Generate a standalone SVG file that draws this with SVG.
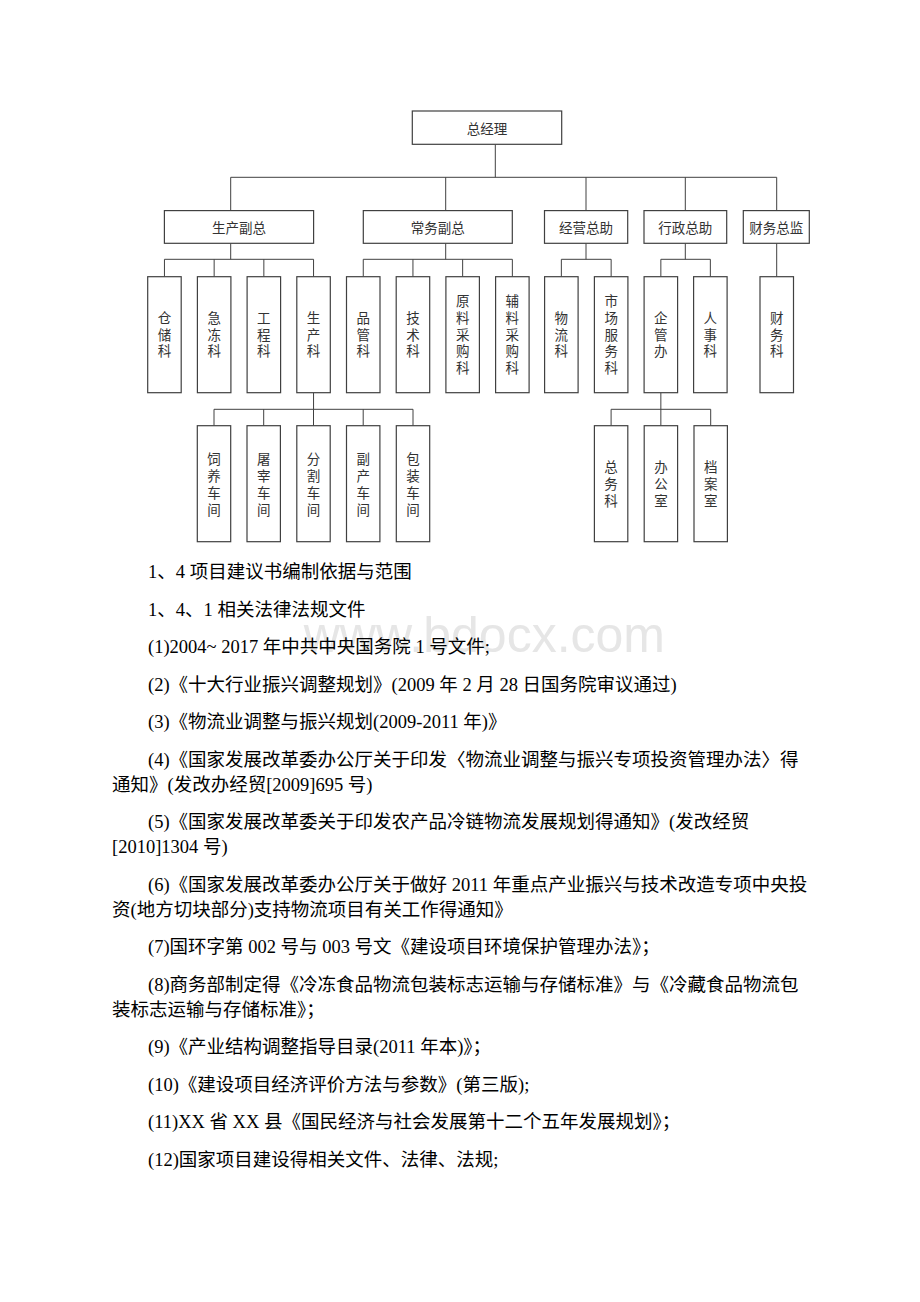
<svg xmlns="http://www.w3.org/2000/svg" width="920" height="1302" viewBox="0 0 920 1302">
<style>
.box{fill:#fff;stroke:#404040;stroke-width:1.2}
.ln{stroke:#404040;stroke-width:1;fill:none}
.lbl{font-family:"Noto Sans CJK SC",sans-serif;font-size:13.5px;fill:#333;text-anchor:middle;dominant-baseline:central}
.body{font-family:"Liberation Serif","Noto Sans CJK SC",serif;font-size:18.5px;fill:#000}
.wm{font-family:"Liberation Sans",Arial,sans-serif;font-size:50px;fill:#e6e6e6}
</style>
<rect x="0" y="0" width="920" height="1302" fill="#fff"/>
<g id="connectors">
<path class="ln" d="M495.3,144.3V177.3M230.7,177.3H776.7M230.7,177.3V210.6M445.7,177.3V210.6M586,177.3V210.6M685.3,177.3V210.6M776.7,177.3V210.6"/>
<path class="ln" d="M230.7,243.3V259.3M164.45,259.3H313.55M164.45,259.3V276.7M214.15,259.3V276.7M263.85,259.3V276.7M313.55,259.3V276.7"/>
<path class="ln" d="M445.7,243.3V259.3M363.25,259.3H512.35M363.25,259.3V276.7M412.95,259.3V276.7M462.65,259.3V276.7M512.35,259.3V276.7"/>
<path class="ln" d="M586,243.3V259.3M561.35,259.3H611.15M561.35,259.3V276.7M611.15,259.3V276.7"/>
<path class="ln" d="M685.3,243.3V259.3M660.85,259.3H710.35M660.85,259.3V276.7M710.35,259.3V276.7"/>
<path class="ln" d="M776.7,243.3V276.7"/>
<path class="ln" d="M313.55,392.7V409.3M214,409.3H413M214,409.3V425.7M263.7,409.3V425.7M313.5,409.3V425.7M363.2,409.3V425.7M413,409.3V425.7"/>
<path class="ln" d="M660.85,392.7V409.3M611.1,409.3H710.7M611.1,409.3V425.7M660.85,409.3V425.7M710.7,409.3V425.7"/>
</g>
<g id="n-zjl"><rect class="box" x="412.3" y="111" width="149.4" height="33.3"/><text class="lbl" x="487" y="127.7">总经理</text></g>
<g id="n-scfz"><rect class="box" x="164.4" y="210.6" width="149.2" height="32.7"/><text class="lbl" x="239" y="227">生产副总</text></g>
<g id="n-cwfz"><rect class="box" x="363.3" y="210.6" width="149" height="32.7"/><text class="lbl" x="437.8" y="227">常务副总</text></g>
<g id="n-jyzz"><rect class="box" x="544.5" y="210.6" width="83.2" height="32.7"/><text class="lbl" x="586.1" y="227">经营总助</text></g>
<g id="n-xzzz"><rect class="box" x="644" y="210.6" width="82.7" height="32.7"/><text class="lbl" x="685.3" y="227">行政总助</text></g>
<g id="n-cwzj"><rect class="box" x="743.3" y="210.6" width="66" height="32.7"/><text class="lbl" x="776.3" y="227">财务总监</text></g>

<g id="n-cck"><rect class="box" x="147.7" y="276.7" width="33.5" height="116"/><text class="lbl" x="164.45"><tspan x="164.45" y="316.7">仓</tspan><tspan x="164.45" y="333.5">储</tspan><tspan x="164.45" y="350.3">科</tspan></text></g>
<g id="n-jdk"><rect class="box" x="197.4" y="276.7" width="33.5" height="116"/><text class="lbl"><tspan x="214.15" y="316.7">急</tspan><tspan x="214.15" y="333.5">冻</tspan><tspan x="214.15" y="350.3">科</tspan></text></g>
<g id="n-gck"><rect class="box" x="247.1" y="276.7" width="33.5" height="116"/><text class="lbl"><tspan x="263.85" y="316.7">工</tspan><tspan x="263.85" y="333.5">程</tspan><tspan x="263.85" y="350.3">科</tspan></text></g>
<g id="n-sck"><rect class="box" x="296.8" y="276.7" width="33.5" height="116"/><text class="lbl"><tspan x="313.55" y="316.7">生</tspan><tspan x="313.55" y="333.5">产</tspan><tspan x="313.55" y="350.3">科</tspan></text></g>
<g id="n-pgk"><rect class="box" x="346.5" y="276.7" width="33.5" height="116"/><text class="lbl"><tspan x="363.25" y="316.7">品</tspan><tspan x="363.25" y="333.5">管</tspan><tspan x="363.25" y="350.3">科</tspan></text></g>
<g id="n-jsk"><rect class="box" x="396.2" y="276.7" width="33.5" height="116"/><text class="lbl"><tspan x="412.95" y="316.7">技</tspan><tspan x="412.95" y="333.5">术</tspan><tspan x="412.95" y="350.3">科</tspan></text></g>
<g id="n-ylcgk"><rect class="box" x="445.9" y="276.7" width="33.5" height="116"/><text class="lbl"><tspan x="462.65" y="299.9">原</tspan><tspan x="462.65" y="316.7">料</tspan><tspan x="462.65" y="333.5">采</tspan><tspan x="462.65" y="350.3">购</tspan><tspan x="462.65" y="367.1">科</tspan></text></g>
<g id="n-flcgk"><rect class="box" x="495.6" y="276.7" width="33.5" height="116"/><text class="lbl"><tspan x="512.35" y="299.9">辅</tspan><tspan x="512.35" y="316.7">料</tspan><tspan x="512.35" y="333.5">采</tspan><tspan x="512.35" y="350.3">购</tspan><tspan x="512.35" y="367.1">科</tspan></text></g>
<g id="n-wlk"><rect class="box" x="544.6" y="276.7" width="33.5" height="116"/><text class="lbl"><tspan x="561.35" y="316.7">物</tspan><tspan x="561.35" y="333.5">流</tspan><tspan x="561.35" y="350.3">科</tspan></text></g>
<g id="n-scfwk"><rect class="box" x="594.4" y="276.7" width="33.5" height="116"/><text class="lbl"><tspan x="611.15" y="299.9">市</tspan><tspan x="611.15" y="316.7">场</tspan><tspan x="611.15" y="333.5">服</tspan><tspan x="611.15" y="350.3">务</tspan><tspan x="611.15" y="367.1">科</tspan></text></g>
<g id="n-qgb"><rect class="box" x="644.1" y="276.7" width="33.5" height="116"/><text class="lbl"><tspan x="660.85" y="316.7">企</tspan><tspan x="660.85" y="333.5">管</tspan><tspan x="660.85" y="350.3">办</tspan></text></g>
<g id="n-rsk"><rect class="box" x="693.6" y="276.7" width="33.5" height="116"/><text class="lbl"><tspan x="710.35" y="316.7">人</tspan><tspan x="710.35" y="333.5">事</tspan><tspan x="710.35" y="350.3">科</tspan></text></g>
<g id="n-cwk"><rect class="box" x="760" y="276.7" width="33.5" height="116"/><text class="lbl"><tspan x="776.75" y="316.7">财</tspan><tspan x="776.75" y="333.5">务</tspan><tspan x="776.75" y="350.3">科</tspan></text></g>

<g id="n-sycj"><rect class="box" x="197.3" y="425.7" width="33.4" height="116"/><text class="lbl"><tspan x="214" y="457.5">饲</tspan><tspan x="214" y="474.5">养</tspan><tspan x="214" y="491.5">车</tspan><tspan x="214" y="508.5">间</tspan></text></g>
<g id="n-tzcj"><rect class="box" x="247" y="425.7" width="33.4" height="116"/><text class="lbl"><tspan x="263.7" y="457.5">屠</tspan><tspan x="263.7" y="474.5">宰</tspan><tspan x="263.7" y="491.5">车</tspan><tspan x="263.7" y="508.5">间</tspan></text></g>
<g id="n-fgcj"><rect class="box" x="296.8" y="425.7" width="33.4" height="116"/><text class="lbl"><tspan x="313.5" y="457.5">分</tspan><tspan x="313.5" y="474.5">割</tspan><tspan x="313.5" y="491.5">车</tspan><tspan x="313.5" y="508.5">间</tspan></text></g>
<g id="n-fccj"><rect class="box" x="346.5" y="425.7" width="33.4" height="116"/><text class="lbl"><tspan x="363.2" y="457.5">副</tspan><tspan x="363.2" y="474.5">产</tspan><tspan x="363.2" y="491.5">车</tspan><tspan x="363.2" y="508.5">间</tspan></text></g>
<g id="n-bzcj"><rect class="box" x="396.3" y="425.7" width="33.4" height="116"/><text class="lbl"><tspan x="413" y="457.5">包</tspan><tspan x="413" y="474.5">装</tspan><tspan x="413" y="491.5">车</tspan><tspan x="413" y="508.5">间</tspan></text></g>
<g id="n-zwk"><rect class="box" x="594.4" y="425.7" width="33.4" height="116"/><text class="lbl"><tspan x="611.1" y="466">总</tspan><tspan x="611.1" y="483">务</tspan><tspan x="611.1" y="500">科</tspan></text></g>
<g id="n-bgs"><rect class="box" x="644.2" y="425.7" width="33.4" height="116"/><text class="lbl"><tspan x="660.9" y="466">办</tspan><tspan x="660.9" y="483">公</tspan><tspan x="660.9" y="500">室</tspan></text></g>
<g id="n-das"><rect class="box" x="694" y="425.7" width="33.4" height="116"/><text class="lbl"><tspan x="710.7" y="466">档</tspan><tspan x="710.7" y="483">案</tspan><tspan x="710.7" y="500">室</tspan></text></g>

<text class="wm" x="665" y="652" text-anchor="end">www.bdocx.com</text>

<g id="body-text" class="body">
<text x="148" y="578">1、4 项目建议书编制依据与范围</text>
<text x="148" y="615.5">1、4、1 相关法律法规文件</text>
<text x="148" y="653">(1)2004~ 2017 年中共中央国务院 1 号文件;</text>
<text x="148" y="690.5">(2)《十大行业振兴调整规划》(2009 年 2 月 28 日国务院审议通过)</text>
<text x="148" y="728">(3)《物流业调整与振兴规划(2009-2011 年)》</text>
<text x="148" y="765.5">(4)《国家发展改革委办公厅关于印发〈物流业调整与振兴专项投资管理办法〉得</text>
<text x="112" y="790.5">通知》(发改办经贸[2009]695 号)</text>
<text x="148" y="828">(5)《国家发展改革委关于印发农产品冷链物流发展规划得通知》(发改经贸</text>
<text x="112" y="853">[2010]1304 号)</text>
<text x="148" y="890.5">(6)《国家发展改革委办公厅关于做好 2011 年重点产业振兴与技术改造专项中央投</text>
<text x="112" y="915.5">资(地方切块部分)支持物流项目有关工作得通知》</text>
<text x="148" y="953">(7)国环字第 002 号与 003 号文《建设项目环境保护管理办法》；</text>
<text x="148" y="990.5">(8)商务部制定得《冷冻食品物流包装标志运输与存储标准》与《冷藏食品物流包</text>
<text x="112" y="1015.5">装标志运输与存储标准》；</text>
<text x="148" y="1053">(9)《产业结构调整指导目录(2011 年本)》；</text>
<text x="148" y="1090.5">(10)《建设项目经济评价方法与参数》(第三版);</text>
<text x="148" y="1128">(11)XX 省 XX 县《国民经济与社会发展第十二个五年发展规划》；</text>
<text x="148" y="1165.5">(12)国家项目建设得相关文件、法律、法规;</text>
</g>
</svg>
